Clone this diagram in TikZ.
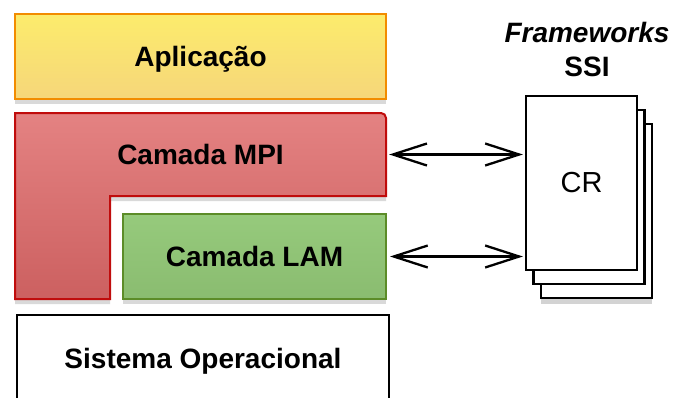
\documentclass[tikz,border=0pt]{standalone}
\usepackage{fontspec}
\setmainfont{Liberation Sans}
\usetikzlibrary{arrows.meta,positioning,shadows}
\definecolor{apltop}{RGB}{252,236,108}
\definecolor{aplbot}{RGB}{246,214,122}
\definecolor{aplline}{RGB}{242,140,0}
\definecolor{mpitop}{RGB}{228,130,130}
\definecolor{mpibot}{RGB}{204,96,96}
\definecolor{mpiline}{RGB}{192,12,12}
\definecolor{lamtop}{RGB}{150,202,124}
\definecolor{lambot}{RGB}{138,188,112}
\definecolor{lamline}{RGB}{92,140,40}

\begin{document}
\begin{tikzpicture}[x=1pt, y=-1pt,
  layer/.style={minimum height=85pt, line width=2pt, text depth=0pt,
    font=\fontsize{28}{33}\selectfont\bfseries,
    drop shadow={opacity=0.3, shadow xshift=0pt, shadow yshift=-5pt}},
  page/.style={draw, fill=white, line width=2.2pt, minimum width=111pt, minimum height=174pt},
  link/.style={{Straight Barb[length=34pt,width=22pt]}-{Straight Barb[length=34pt,width=22pt]},
    line width=2.3pt, shorten <=3pt, shorten >=2pt}]
\useasboundingbox (0,0) rectangle (674,397);

% layers of the stack
\node[layer, draw=aplline, top color=apltop, bottom color=aplbot,
      minimum width=371pt] (apl) at (200.5,56.5) {Aplicação};
\draw[line width=2pt, draw=mpiline, top color=mpitop, bottom color=mpibot,
      drop shadow={opacity=0.3, shadow xshift=0pt, shadow yshift=-5pt}]
  (15,299) -- (15,113) [rounded corners=5pt] -- (386,113) [sharp corners]
  -- (386,196) -- (110,196) -- (110,299) -- cycle;
\node[font=\fontsize{28}{33}\selectfont\bfseries, text depth=0pt, minimum width=371pt,
      minimum height=83pt] (mpi) at (200.5,154.5) {Camada MPI};
\node[layer, draw=lamline, top color=lamtop, bottom color=lambot,
      minimum width=263pt] (lam) at (254.5,256.5) {Camada LAM};
\node[layer, draw=black, fill=white, line width=2.5pt, minimum width=372pt,
      minimum height=86pt] (so) at (203,358) {Sistema Operacional};

% SSI frameworks
\node[font=\fontsize{28}{34}\selectfont\bfseries, align=center] (ssi) at (587,49)
  {\textit{Frameworks}\\SSI};
\node[page, drop shadow={opacity=0.35, shadow xshift=0pt, shadow yshift=-6pt}] (cr3) at (596.5,211) {};
\node[page] (cr2) at (589,197) {};
\node[page, font=\fontsize{29}{33}\selectfont] (cr) at (581.5,183) {CR};

\draw[link] (mpi.east) -- (mpi.east -| cr.west);
\draw[link] (lam.east) -- (lam.east -| cr.west);
\end{tikzpicture}
\end{document}
